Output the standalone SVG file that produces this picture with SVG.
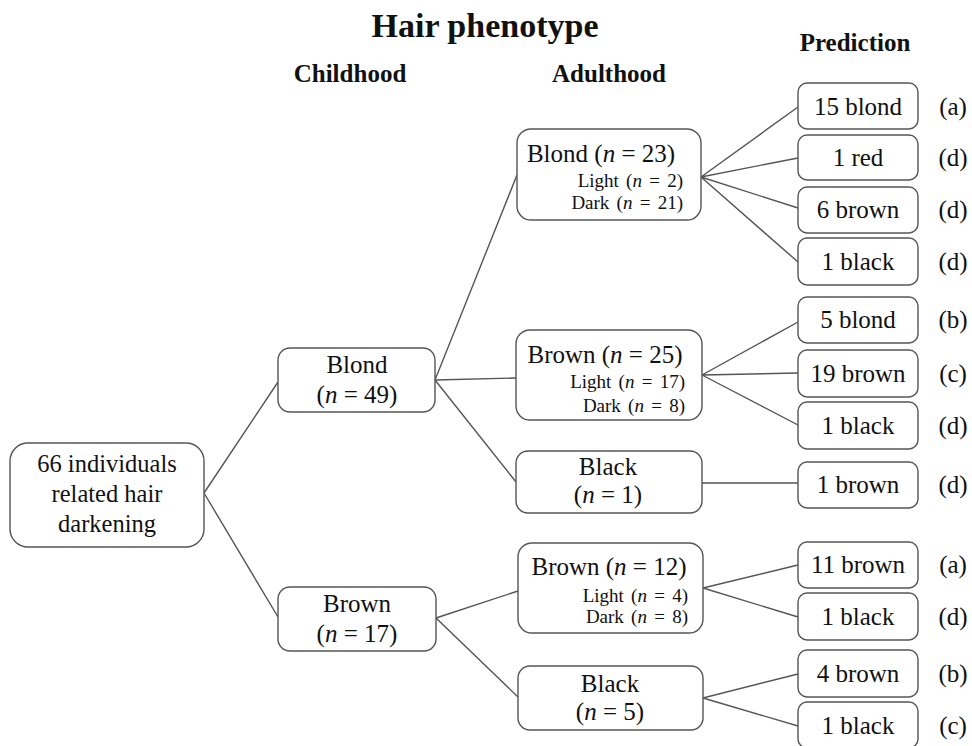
<svg xmlns="http://www.w3.org/2000/svg" width="972" height="746" viewBox="0 0 972 746" font-family="'Liberation Serif', 'DejaVu Serif', serif">
<style>
text{font-family:'Liberation Serif','DejaVu Serif',serif;fill:#111}
.h{font-weight:bold}
.box{fill:#fff;stroke:#555;stroke-width:1.4}
.ln{stroke:#555;stroke-width:1.4;fill:none}
.m{font-size:25px;text-anchor:middle}
.r{font-size:24.5px;text-anchor:middle}
.s{font-size:19px;text-anchor:end;word-spacing:2.5px}
.i{font-style:italic}
</style>
<rect width="972" height="746" fill="#fff"/>
<g id="headers">
<text class="h" x="485" y="37" font-size="34" text-anchor="middle">Hair phenotype</text>
<text class="h" x="350" y="82" font-size="25" text-anchor="middle">Childhood</text>
<text class="h" x="609" y="82" font-size="25" text-anchor="middle">Adulthood</text>
<text class="h" x="855" y="51" font-size="25" text-anchor="middle">Prediction</text>
</g>
<g id="connectors">
<path class="ln" d="M204,493 L278,382 M204,493 L278,617"/>
<path class="ln" d="M435,380 L517,175 M435,380 L516,378 M435,380 L516,482"/>
<path class="ln" d="M436,618 L518,591 M436,618 L518,697"/>
<path class="ln" d="M701,177 L798,107 M701,177 L798,158 M701,177 L798,208 M701,177 L798,262"/>
<path class="ln" d="M702,375 L798,322 M702,375 L798,373 M702,375 L798,425"/>
<path class="ln" d="M702,483 L798,483"/>
<path class="ln" d="M703,588 L798,565 M703,588 L798,617"/>
<path class="ln" d="M703,698 L798,674 M703,698 L798,726"/>
</g>
<g id="root">
<rect class="box" x="10" y="443" width="194" height="104" rx="18"/>
<text class="r" x="107" y="472">66 individuals</text>
<text class="r" x="107" y="502">related hair</text>
<text class="r" x="107" y="532">darkening</text>
</g>
<g id="child-blond">
<rect class="box" x="278" y="348" width="157" height="64" rx="12"/>
<text class="m" x="357" y="373">Blond</text>
<text class="m" x="357" y="403">(<tspan class="i">n</tspan> = 49)</text>
</g>
<g id="child-brown">
<rect class="box" x="278" y="587" width="158" height="64" rx="12"/>
<text class="m" x="357" y="612">Brown</text>
<text class="m" x="357" y="642">(<tspan class="i">n</tspan> = 17)</text>
</g>
<g id="adult-blond">
<rect class="box" x="517" y="129" width="184" height="91" rx="14"/>
<text class="m" x="601" y="162">Blond (<tspan class="i">n</tspan> = 23)</text>
<text class="s" x="683" y="187">Light (<tspan class="i">n</tspan> = 2)</text>
<text class="s" x="683" y="209">Dark (<tspan class="i">n</tspan> = 21)</text>
</g>
<g id="adult-brown-25">
<rect class="box" x="516" y="330" width="186" height="90" rx="14"/>
<text class="m" x="605" y="363">Brown (<tspan class="i">n</tspan> = 25)</text>
<text class="s" x="685" y="388">Light (<tspan class="i">n</tspan> = 17)</text>
<text class="s" x="685" y="412">Dark (<tspan class="i">n</tspan> = 8)</text>
</g>
<g id="adult-black-1">
<rect class="box" x="516" y="451" width="186" height="62" rx="12"/>
<text class="m" x="608" y="475">Black</text>
<text class="m" x="608" y="503">(<tspan class="i">n</tspan> = 1)</text>
</g>
<g id="adult-brown-12">
<rect class="box" x="518" y="543" width="185" height="90" rx="14"/>
<text class="m" x="609" y="575">Brown (<tspan class="i">n</tspan> = 12)</text>
<text class="s" x="688" y="602">Light (<tspan class="i">n</tspan> = 4)</text>
<text class="s" x="688" y="623">Dark (<tspan class="i">n</tspan> = 8)</text>
</g>
<g id="adult-black-5">
<rect class="box" x="518" y="666" width="185" height="64" rx="12"/>
<text class="m" x="610" y="692">Black</text>
<text class="m" x="610" y="720">(<tspan class="i">n</tspan> = 5)</text>
</g>
<g id="pred-1"><rect class="box" x="798" y="83" width="120" height="46" rx="9"/><text class="m" x="858" y="115">15 blond</text><text class="m" x="953" y="115">(a)</text></g>
<g id="pred-2"><rect class="box" x="798" y="135" width="120" height="45" rx="9"/><text class="m" x="858" y="166">1 red</text><text class="m" x="953" y="166">(d)</text></g>
<g id="pred-3"><rect class="box" x="798" y="187" width="120" height="46" rx="9"/><text class="m" x="858" y="218">6 brown</text><text class="m" x="953" y="218">(d)</text></g>
<g id="pred-4"><rect class="box" x="798" y="238" width="120" height="47" rx="9"/><text class="m" x="858" y="270">1 black</text><text class="m" x="953" y="270">(d)</text></g>
<g id="pred-5"><rect class="box" x="798" y="297" width="120" height="46" rx="9"/><text class="m" x="858" y="328">5 blond</text><text class="m" x="953" y="328">(b)</text></g>
<g id="pred-6"><rect class="box" x="798" y="350" width="120" height="47" rx="9"/><text class="m" x="858" y="382">19 brown</text><text class="m" x="953" y="382">(c)</text></g>
<g id="pred-7"><rect class="box" x="798" y="402" width="120" height="47" rx="9"/><text class="m" x="858" y="434">1 black</text><text class="m" x="953" y="434">(d)</text></g>
<g id="pred-8"><rect class="box" x="798" y="462" width="120" height="46" rx="9"/><text class="m" x="858" y="493">1 brown</text><text class="m" x="953" y="493">(d)</text></g>
<g id="pred-9"><rect class="box" x="798" y="542" width="120" height="46" rx="9"/><text class="m" x="858" y="573">11 brown</text><text class="m" x="953" y="573">(a)</text></g>
<g id="pred-10"><rect class="box" x="798" y="593" width="120" height="47" rx="9"/><text class="m" x="858" y="625">1 black</text><text class="m" x="953" y="625">(d)</text></g>
<g id="pred-11"><rect class="box" x="798" y="650" width="120" height="47" rx="9"/><text class="m" x="858" y="682">4 brown</text><text class="m" x="953" y="682">(b)</text></g>
<g id="pred-12"><rect class="box" x="798" y="702" width="120" height="46" rx="9"/><text class="m" x="858" y="734">1 black</text><text class="m" x="953" y="734">(c)</text></g>
</svg>
